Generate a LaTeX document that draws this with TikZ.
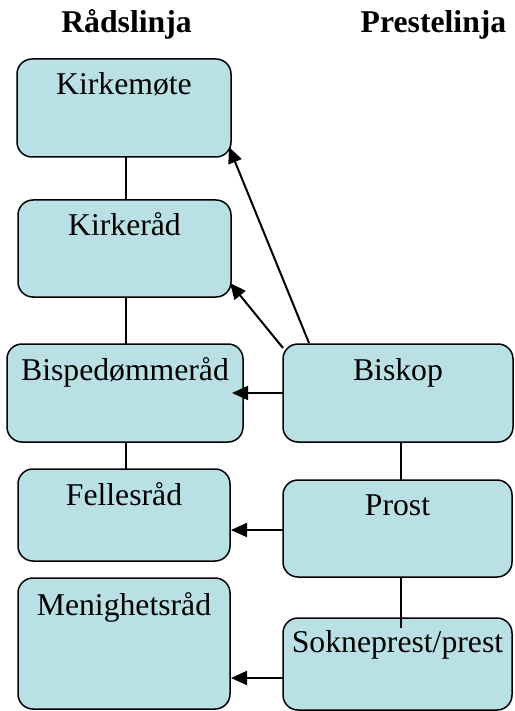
\documentclass[tikz,border=0pt]{standalone}
\usepackage{fontspec}
\setmainfont{Liberation Serif}
\usetikzlibrary{arrows.meta,calc}
\definecolor{boxfill}{RGB}{185,224,228}
\begin{document}
\begin{tikzpicture}[x=1pt,y=-1pt,
  orgbox/.style={draw=black,line width=1.5pt,fill=boxfill,rounded corners=15pt,
    inner sep=0pt,outer sep=0pt},
  boxlabel/.style={anchor=base,inner sep=0pt,font=\fontsize{31.7}{36}\selectfont},
  heading/.style={anchor=base,inner sep=0pt,font=\fontsize{31.7}{36}\selectfont\bfseries},
  link/.style={line width=1.3pt},
  arr/.style={line width=2pt,-{Triangle[length=16pt,width=14pt]}}]
  \useasboundingbox (0,0) rectangle (514,711);

  % column headings
  \node[heading] (hraad) at (126.5,33) {Rådslinja};
  \node[heading] (hprest) at (433.5,33) {Prestelinja};

  % council line (left)
  \node[orgbox,minimum width=214pt,minimum height=98pt] (kmote) at (124,108) {};
  \node[orgbox,minimum width=213pt,minimum height=97pt] (kraad) at (124.5,248.5) {};
  \node[orgbox,minimum width=236pt,minimum height=98pt] (bisp) at (125,393) {};
  \node[orgbox,minimum width=212pt,minimum height=92pt] (fell) at (124,515) {};
  \node[orgbox,minimum width=212pt,minimum height=131pt] (meni) at (124,643.5) {};

  % clergy line (right)
  \node[orgbox,minimum width=230pt,minimum height=98pt] (biskop) at (398,393) {};
  \node[orgbox,minimum width=229pt,minimum height=97pt] (prost) at (397.5,528.5) {};
  \node[orgbox,minimum width=229pt,minimum height=92pt] (sokne) at (397.5,664) {};

  % box texts
  \node[boxlabel] (tkmote) at ($(kmote.north)+(0,36)$) {Kirkemøte};
  \node[boxlabel] (tkraad) at ($(kraad.north)+(0,35)$) {Kirkeråd};
  \node[boxlabel] (tbisp) at ($(bisp.north)+(0,36)$) {Bispedømmeråd};
  \node[boxlabel] (tfell) at ($(fell.north)+(0,36)$) {Fellesråd};
  \node[boxlabel] (tmeni) at ($(meni.north)+(0,37)$) {Menighetsråd};
  \node[boxlabel] (tbiskop) at ($(biskop.north)+(0,36)$) {Biskop};
  \node[boxlabel] (tprost) at ($(prost.north)+(0,35)$) {Prost};
  \node[boxlabel] (tsokne) at ($(sokne.north)+(0,34)$) {Sokneprest/prest};

  % vertical links
  \draw[link] ($(kmote.south)+(2,0)$) -- ($(kraad.north)+(1.5,0)$);
  \draw[link] ($(kraad.south)+(1.5,0)$) -- ($(bisp.north)+(1,0)$);
  \draw[link] ($(bisp.south)+(1,0)$) -- ($(fell.north)+(2,0)$);
  \draw[link] ($(biskop.south)+(3,0)$) -- ($(prost.north)+(3.5,0)$);
  \draw[link] ($(prost.south)+(3.5,0)$) -- ($(sokne.north)+(3.5,10)$);

  % authority arrows
  \draw[arr] ($(biskop.north west)+(26,-1)$) -- ($(kmote.south east)+(-2,-10)$);
  \draw[arr] ($(biskop.north west)+(0,4)$) -- ($(kraad.south east)+(-1,-14)$);
  \draw[arr] (biskop.west) -- ($(bisp.east)+(-11,0)$);
  \draw[arr] ($(prost.west)+(0,1.5)$) -- ($(prost.west -| fell.east)+(1,1.5)$);
  \draw[arr] ($(sokne.west)+(0,14)$) -- ($(sokne.west -| meni.east)+(1,14)$);
\end{tikzpicture}
\end{document}
